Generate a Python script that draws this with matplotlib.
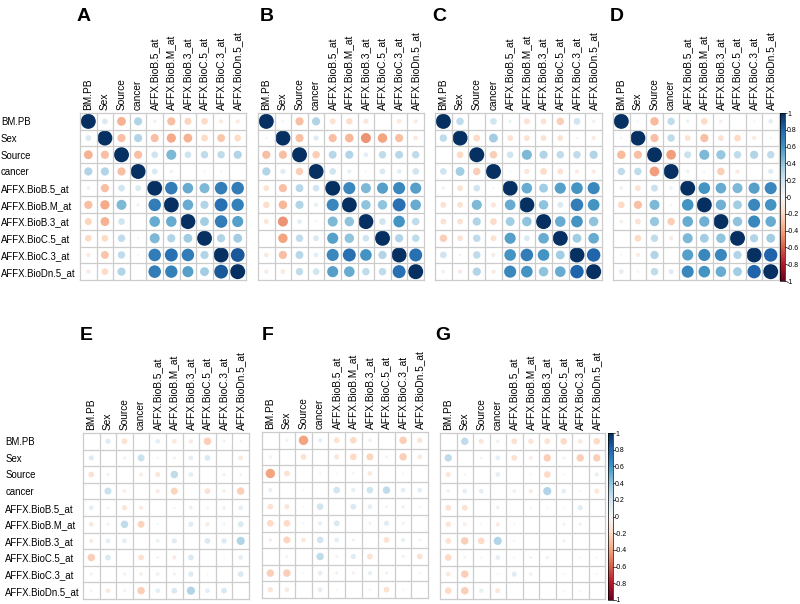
import numpy as np
import matplotlib
matplotlib.use('Agg')
import matplotlib.pyplot as plt
from matplotlib.patches import Circle
from matplotlib.collections import PatchCollection
from matplotlib.colors import Normalize
import matplotlib.cm as cm

plt.rcParams['font.family'] = ['Liberation Sans', 'DejaVu Sans']

labels = ['BM.PB', 'Sex', 'Source', 'cancer', 'AFFX.BioB.5_at', 'AFFX.BioB.M_at',
          'AFFX.BioB.3_at', 'AFFX.BioC.5_at', 'AFFX.BioC.3_at', 'AFFX.BioDn.5_at']

# lower triangles (row i holds correlations with columns 0..i-1)
lower_A = [[0.15],
           [-0.35, -0.3],
           [0.3, 0.3, -0.3],
           [-0.06, -0.3, 0.2, 0.15],
           [-0.3, -0.38, 0.45, -0.05, 0.7],
           [-0.22, -0.35, 0.2, 0.0, 0.5, 0.5],
           [-0.2, -0.2, 0.25, 0.03, 0.45, 0.3, 0.35],
           [-0.08, -0.28, 0.25, 0.02, 0.7, 0.75, 0.7, 0.3],
           [-0.08, -0.2, 0.3, 0.0, 0.7, 0.68, 0.55, 0.35, 0.85]]

lower_B = [[0.03],
           [-0.3, -0.3],
           [0.3, 0.12, -0.25],
           [-0.15, -0.3, 0.28, 0.2],
           [-0.18, -0.33, 0.3, 0.08, 0.65],
           [-0.12, -0.45, 0.1, 0.03, 0.45, 0.4],
           [0.0, -0.4, 0.25, 0.15, 0.55, 0.4, 0.2],
           [-0.1, -0.3, 0.28, 0.1, 0.65, 0.75, 0.6, 0.3],
           [-0.08, -0.1, 0.25, 0.2, 0.55, 0.5, 0.25, 0.25, 0.75]]

lower_C = [[0.25],
           [0.0, -0.2],
           [0.2, 0.35, -0.25],
           [0.05, -0.15, 0.2, 0.02],
           [-0.15, -0.15, 0.45, -0.12, 0.5],
           [-0.15, -0.15, 0.3, -0.2, 0.35, 0.4],
           [-0.25, -0.15, 0.25, -0.15, 0.55, 0.15, 0.5],
           [0.2, -0.03, 0.25, -0.08, 0.6, 0.7, 0.6, 0.35],
           [0.06, -0.08, 0.3, -0.08, 0.65, 0.6, 0.4, 0.5, 0.8]]

lower_D = [[0.02],
           [-0.32, -0.3],
           [0.25, 0.25, -0.42],
           [0.06, -0.15, 0.22, 0.06],
           [-0.2, -0.3, 0.45, 0.03, 0.6],
           [-0.06, -0.15, 0.38, -0.25, 0.5, 0.48],
           [0.0, -0.2, 0.25, -0.08, 0.45, 0.35, 0.4],
           [0.02, -0.08, 0.3, 0.0, 0.55, 0.65, 0.65, 0.3],
           [0.1, -0.03, 0.25, 0.12, 0.65, 0.6, 0.5, 0.35, 0.8]]

lower_E = [[0.12],
           [-0.15, -0.05],
           [0.0, 0.22, -0.07],
           [0.1, 0.03, -0.12, -0.08],
           [-0.1, -0.05, 0.25, -0.22, 0.03],
           [-0.08, 0.1, 0.1, 0.0, 0.07, 0.12],
           [-0.25, 0.15, 0.0, -0.15, -0.04, -0.08, 0.15],
           [0.04, 0.0, -0.05, -0.06, 0.06, 0.04, 0.13, 0.02],
           [0.03, -0.1, 0.04, -0.25, 0.1, 0.15, 0.3, 0.1, 0.15]]

lower_F = [[-0.05],
           [-0.4, -0.15],
           [0.08, 0.0, 0.02],
           [-0.15, -0.12, 0.02, 0.2],
           [-0.2, -0.2, 0.03, 0.08, 0.15],
           [-0.06, -0.22, -0.1, 0.2, 0.1, 0.04],
           [0.0, -0.04, 0.0, 0.25, -0.04, 0.12, -0.15],
           [-0.25, -0.25, 0.02, 0.1, 0.05, -0.05, 0.08, -0.05],
           [-0.13, -0.1, 0.0, 0.1, 0.02, 0.0, 0.03, -0.15, 0.02]]

lower_G = [[0.25],
           [-0.12, -0.03],
           [0.06, 0.1, 0.1],
           [-0.15, -0.15, 0.0, 0.06],
           [-0.13, -0.07, 0.02, -0.08, 0.02],
           [-0.15, -0.25, -0.2, 0.3, 0.02, 0.0],
           [-0.2, -0.04, 0.02, 0.1, -0.02, -0.04, -0.05],
           [-0.1, -0.25, 0.0, 0.02, 0.12, 0.05, 0.0, 0.02],
           [-0.2, -0.25, 0.08, -0.12, 0.0, 0.0, 0.0, 0.02, 0.02]]

W, H = 800, 604
fig = plt.figure(figsize=(W / 100, H / 100), dpi=100)
norm = Normalize(-1, 1)


def full(lower, diag):
    n = len(labels)
    m = np.full((n, n), float(diag))
    for i, row in enumerate(lower, start=1):
        for j, v in enumerate(row):
            m[i, j] = v
            m[j, i] = v
    return m


def px_axes(l, t, w, h):
    return fig.add_axes([l / W, 1 - (t + h) / H, w / W, h / H])


def draw_panel(ax, mat, show_rows, row_pad):
    n = len(labels)
    circles, vals = [], []
    for i in range(n):
        for j in range(n):
            v = mat[i, j]
            if v == 0:
                continue
            circles.append(Circle((j + 0.5, i + 0.5), 0.45 * np.sqrt(abs(v))))
            vals.append(v)
    pc = PatchCollection(circles, cmap='RdBu', norm=norm, linewidths=0)
    pc.set_array(np.array(vals))
    ax.add_collection(pc)
    for k in range(n + 1):
        ax.axhline(k, color='#cccccc', lw=0.9, clip_on=False)
        ax.axvline(k, color='#cccccc', lw=0.9, clip_on=False)
    ax.set_xlim(0, n)
    ax.set_ylim(n, 0)
    for s in ax.spines.values():
        s.set_visible(False)
    ax.xaxis.tick_top()
    ax.set_xticks(np.arange(n) + 0.5, labels, rotation=90, fontsize=7.3)
    ax.tick_params(axis='x', length=0, pad=2)
    if show_rows:
        ax.set_yticks(np.arange(n) + 0.5, labels, fontsize=6.9, ha='left')
        ax.tick_params(axis='y', length=0, pad=row_pad)
    else:
        ax.set_yticks([])


def add_cbar(l, t, w, h):
    cax = px_axes(l, t, w, h)
    ticks = np.round(np.linspace(-1, 1, 11), 1) + 0.0
    cb = fig.colorbar(cm.ScalarMappable(norm=norm, cmap='RdBu'), cax=cax, ticks=ticks)
    cb.ax.set_yticklabels([f'{v:g}' for v in ticks])
    cb.ax.tick_params(labelsize=5, length=1.5, width=0.5, pad=0)
    cb.outline.set_linewidth(0.5)


panels = [
    ('A', lower_A, 1, (80, 113, 166, 167), (77, 21), True, 57),
    ('B', lower_B, 1, (258, 113, 166, 167), (260, 21), False, 0),
    ('C', lower_C, 1, (435, 113, 167, 167), (432, 21), False, 0),
    ('D', lower_D, 1, (613, 113, 166, 167), (610, 21), False, 0),
    ('E', lower_E, 0, (83, 433, 166, 166), (80, 340), True, 56),
    ('F', lower_F, 0, (262, 432, 166, 166), (262, 340), False, 0),
    ('G', lower_G, 0, (440, 433, 165, 166), (435, 340), False, 0),
]

for name, low, diag, box, tpos, rows, pad in panels:
    ax = px_axes(*box)
    draw_panel(ax, full(low, diag), rows, pad)
    fig.text(tpos[0] / W, 1 - tpos[1] / H, name, fontsize=14, fontweight='bold',
             va='baseline', ha='left')

add_cbar(780, 113, 5, 168)
add_cbar(608, 433, 5, 167)

fig.savefig('out.png', dpi=100)
